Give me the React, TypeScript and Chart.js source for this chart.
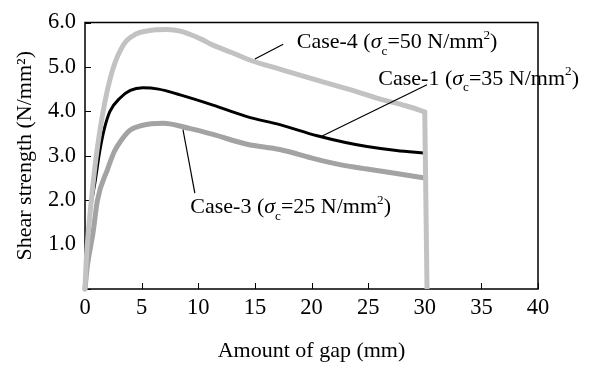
import React, { useEffect, useRef } from "react";
import { Chart, registerables } from "chart.js";

Chart.register(...registerables);

// ---- Data ----
const case4Gap = [0, 0.1, 0.3, 0.6, 1.0, 1.6, 2.4, 3.4, 4.5, 5.5, 7.2, 8.5, 9.3, 10.3, 11.3, 13.0, 14.6, 17.2, 20.1, 23.1, 26.0, 28.4, 30.0, 30.1, 30.2];
const case4Strength = [0, 0.6, 1.3, 2.1, 3.0, 4.0, 4.9, 5.5, 5.74, 5.81, 5.84, 5.8, 5.73, 5.62, 5.49, 5.32, 5.15, 4.95, 4.73, 4.51, 4.28, 4.12, 3.99, 2.0, 0];
// index of the last point before the sudden drop at the end of the test
const case4DropIndex = 22;

const case1Gap = [0, 0.2, 0.5, 0.9, 1.3, 1.7, 2.2, 3.1, 4.0, 5.1, 6.5, 8.4, 11.3, 14.3, 17.2, 20.5, 23.0, 24.9, 27.5, 30.0];
const case1Strength = [0, 1.0, 1.8, 2.43, 3.1, 3.6, 4.0, 4.3, 4.47, 4.53, 4.5, 4.37, 4.14, 3.88, 3.7, 3.45, 3.3, 3.21, 3.12, 3.06];

const case3Gap = [0, 0.2, 0.7, 1.1, 2.0, 2.6, 3.2, 4.0, 5.0, 6.9, 9.3, 11.3, 14.3, 17.2, 20.3, 22.5, 24.9, 27.5, 30.0];
const case3Strength = [0, 0.5, 1.25, 2.0, 2.7, 3.1, 3.35, 3.58, 3.68, 3.73, 3.61, 3.48, 3.26, 3.14, 2.93, 2.8, 2.7, 2.6, 2.5];

const caseNames = ["Case-4", "Case-1", "Case-3"];
const caseSigma = [50, 35, 25];
const labelGap = [18.7, 25.9, 9.3];
const labelStrength = [5.42, 4.6, 1.7];
const leaderFromGap = [15.0, 20.9, 8.65];
const leaderFromStrength = [5.18, 3.44, 3.59];
const leaderToGap = [17.5, 30.2, 9.7];
const leaderToStrength = [5.51, 4.6, 2.16];

const xTitle = "Amount of gap (mm)";
const yTitle = "Shear strength (N/mm\u00B2)";

const FONT = "'Liberation Serif', 'Times New Roman', serif";
const FS = 22;
const TICK_FS = 22.5;

function toPoints(xs: number[], ys: number[]) {
  return xs.map((x, i) => ({ x, y: ys[i] }));
}

function drawRich(ctx: CanvasRenderingContext2D, x: number, y: number, name: string, sigma: number, size: number) {
  let cx = x;
  ctx.textBaseline = "alphabetic";
  ctx.textAlign = "left";
  ctx.fillStyle = "#000";
  const seg = (t: string, s: number, italic: boolean, dy: number) => {
    ctx.font = `${italic ? "italic " : ""}${s}px ${FONT}`;
    ctx.fillText(t, cx, y + dy);
    cx += ctx.measureText(t).width;
  };
  seg(`${name} (`, size, false, 0);
  seg("\u03C3", size, true, 0);
  seg("c", size * 0.6, false, size * 0.3);
  seg(`=${sigma} N/mm`, size, false, 0);
  seg("2", size * 0.6, false, -size * 0.42);
  seg(")", size, false, 0);
}

const framePlugin = {
  id: "frame",
  beforeDatasetsDraw(chart: any) {
    const { ctx, chartArea: a, scales } = chart;
    ctx.save();
    ctx.strokeStyle = "#000";
    ctx.lineWidth = 1.5;
    ctx.strokeRect(a.left, a.top, a.right - a.left, a.bottom - a.top);
    ctx.lineWidth = 1;
    ctx.beginPath();
    scales.x.ticks.forEach((t: any) => {
      const px = Math.round(scales.x.getPixelForValue(t.value)) + 0.5;
      ctx.moveTo(px, a.bottom);
      ctx.lineTo(px, a.bottom - 6);
    });
    scales.y.ticks.forEach((t: any) => {
      const py = Math.round(scales.y.getPixelForValue(t.value)) + 0.5;
      ctx.moveTo(a.left, py);
      ctx.lineTo(a.left + 6, py);
    });
    ctx.stroke();
    ctx.restore();
  },
  afterDatasetsDraw(chart: any) {
    const { ctx, scales } = chart;
    const sx = scales.x, sy = scales.y;
    ctx.save();
    ctx.strokeStyle = "#000";
    ctx.lineWidth = 1.2;
    for (let i = 0; i < caseNames.length; i++) {
      ctx.beginPath();
      ctx.moveTo(sx.getPixelForValue(leaderFromGap[i]), sy.getPixelForValue(leaderFromStrength[i]));
      ctx.lineTo(sx.getPixelForValue(leaderToGap[i]), sy.getPixelForValue(leaderToStrength[i]));
      ctx.stroke();
      drawRich(ctx, sx.getPixelForValue(labelGap[i]), sy.getPixelForValue(labelStrength[i]), caseNames[i], caseSigma[i], FS);
    }
    ctx.restore();
  },
};

export default function App() {
  const ref = useRef<HTMLCanvasElement | null>(null);
  useEffect(() => {
    document.body.style.margin = "0";
    const canvas = ref.current!;
    const common = { pointRadius: 0, cubicInterpolationMode: "monotone", clip: 8, borderJoinStyle: "round", borderCapStyle: "round" };
    const case4Points = toPoints(case4Gap, case4Strength);
    const chart = new Chart(canvas, {
      type: "line",
      data: {
        datasets: [
          { label: "Case-4 drop", data: case4Points.slice(case4DropIndex), borderColor: "#c2c2c2", borderWidth: 5, pointRadius: 0, tension: 0, clip: 8, borderJoinStyle: "round" } as any,
          { label: "Case-4", data: case4Points.slice(0, case4DropIndex + 1), borderColor: "#c2c2c2", borderWidth: 5, ...common } as any,
          { label: "Case-1", data: toPoints(case1Gap, case1Strength), borderColor: "#000000", borderWidth: 3, ...common } as any,
          { label: "Case-3", data: toPoints(case3Gap, case3Strength), borderColor: "#a3a3a3", borderWidth: 5, ...common } as any,
        ],
      },
      options: {
        animation: false,
        responsive: false,
        events: [],
        layout: { padding: { left: 0, right: 59, top: 20, bottom: 0 } },
        plugins: { legend: { display: false }, tooltip: { enabled: false } },
        scales: {
          x: {
            type: "linear",
            min: 0,
            max: 40,
            border: { display: false },
            grid: { display: false, drawTicks: false },
            ticks: { stepSize: 5, padding: 6, color: "#000", font: { family: FONT, size: TICK_FS } },
            title: { display: true, text: xTitle, color: "#000", font: { family: FONT, size: FS }, padding: { top: 0, bottom: 1 } },
            afterFit: (s: any) => { s.height = 76; },
          },
          y: {
            type: "linear",
            min: 0,
            max: 6,
            border: { display: false },
            grid: { display: false, drawTicks: false },
            ticks: {
              stepSize: 1,
              padding: 9,
              color: "#000",
              font: { family: FONT, size: TICK_FS },
              callback: (v: any) => (Number(v) === 0 ? "" : Number(v).toFixed(1)),
            },
            title: { display: true, text: yTitle, color: "#000", font: { family: FONT, size: FS }, padding: { top: 12, bottom: 0 } },
            afterFit: (s: any) => { s.width = 85; },
          },
        },
      } as any,
      plugins: [framePlugin],
    });
    return () => chart.destroy();
  }, []);
  return <canvas ref={ref} width={597} height={365} style={{ display: "block" }} />;
}
